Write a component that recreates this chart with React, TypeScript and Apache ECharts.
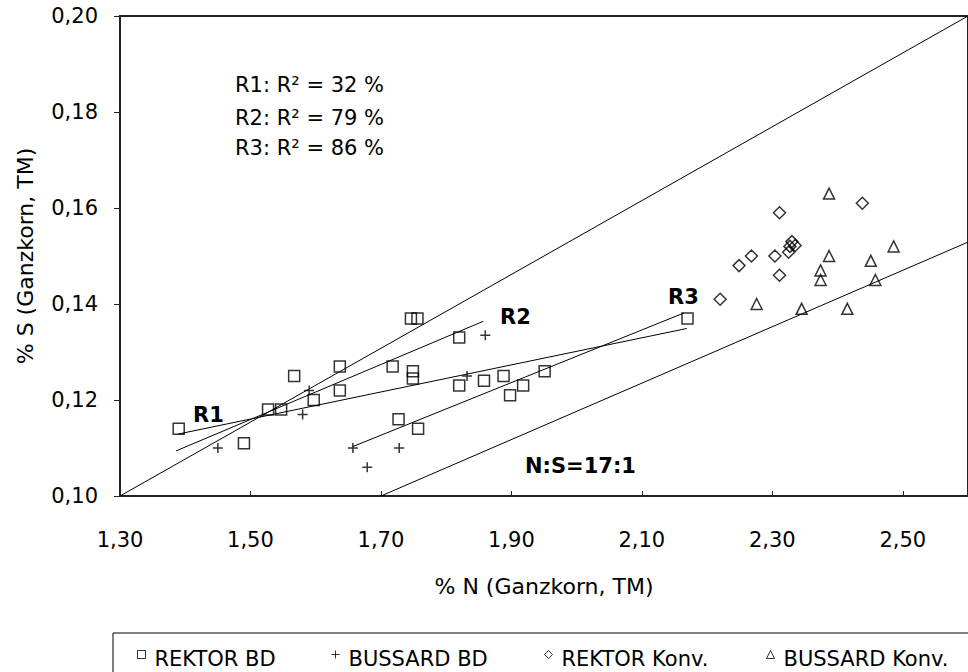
import React, { useEffect, useRef } from "react";
import * as echarts from "echarts";

// ---- data ----
const rektorBD: number[][] = [
  [1.39, 0.114], [1.49, 0.111], [1.527, 0.118], [1.547, 0.118], [1.567, 0.125],
  [1.597, 0.12], [1.637, 0.127], [1.637, 0.122], [1.718, 0.127], [1.727, 0.116],
  [1.746, 0.137], [1.756, 0.137], [1.749, 0.126], [1.749, 0.1245], [1.757, 0.114],
  [1.82, 0.133], [1.82, 0.123], [1.858, 0.124], [1.888, 0.125], [1.898, 0.121],
  [1.918, 0.123], [1.951, 0.126], [2.17, 0.137],
];
const bussardBD: number[][] = [
  [1.45, 0.11], [1.58, 0.117], [1.59, 0.122], [1.657, 0.11], [1.679, 0.106],
  [1.728, 0.11], [1.832, 0.125], [1.86, 0.1335],
];
const rektorKonv: number[][] = [
  [2.22, 0.141], [2.249, 0.148], [2.268, 0.15], [2.304, 0.15], [2.311, 0.159],
  [2.311, 0.146], [2.325, 0.1508], [2.33, 0.153], [2.335, 0.1522], [2.327, 0.152],
  [2.438, 0.161],
];
const bussardKonv: number[][] = [
  [2.276, 0.14], [2.345, 0.139], [2.374, 0.147], [2.374, 0.145], [2.387, 0.163],
  [2.387, 0.15], [2.415, 0.139], [2.451, 0.149], [2.458, 0.145], [2.486, 0.152],
];
const regR1: number[][] = [[1.389, 0.1129], [2.169, 0.1349]];
const regR2: number[][] = [[1.386, 0.1094], [1.857, 0.1364]];
const regR3: number[][] = [[1.657, 0.1103], [2.164, 0.1381]];
const ratio13: number[][] = [[1.3, 0.1], [2.6, 0.2]];
const ratio17: number[][] = [[1.7, 0.1], [2.6, 0.1529]];
const r2Texts: string[] = ["R1: R² = 32 %", "R2: R² = 79 %", "R3: R² = 86 %"];
const seriesNames: string[] = ["REKTOR BD", "BUSSARD BD", "REKTOR Konv.", "BUSSARD Konv."];

const FONT = "'DejaVu Sans', Verdana, sans-serif";
const FS = 21;
const fmt = (v: number) => v.toFixed(2).replace(".", ",");

export default function App() {
  const ref = useRef<HTMLDivElement>(null);
  useEffect(() => {
    if (!ref.current) return;
    const chart = echarts.init(ref.current, null, { renderer: "svg" });
    const plusPath = "path://M5,0L5,10M0,5L10,5";
    // legend icons: symbol in the upper part of a taller box (raised like the reference)
    const lgSquare = "path://M0,0M0,22M0,3L8,3L8,11L0,11Z";
    const lgPlus = "path://M0,0M0,22M4,3L4,11M0,7L8,7";
    const lgDiamond = "path://M0,0M0,22M4,3L8,7L4,11L0,7Z";
    const lgTriangle = "path://M0,0M0,22M4,3L8,11L0,11Z";
    const scatterBase = {
      type: "scatter",
      itemStyle: { color: "rgba(0,0,0,0)", borderColor: "#000", borderWidth: 1.5 },
      emphasis: { disabled: true },
      z: 3,
    };
    const lineBase = {
      type: "line",
      symbol: "none",
      lineStyle: { color: "#000", width: 1 },
      emphasis: { disabled: true },
      z: 2,
    };
    const legendBase = {
      top: 642,
      itemWidth: 8,
      itemHeight: 22,
      itemGap: 4,
      textStyle: { fontFamily: FONT, fontSize: FS, color: "#000", padding: [0, 0, 0, 4] },
      itemStyle: { color: "rgba(0,0,0,0)", borderColor: "#000", borderWidth: 1 },
      selectedMode: false,
    };
    const text = (t: string, x: number, y: number, bold = false) => ({
      type: "text",
      x,
      y,
      style: {
        text: t,
        font: bold ? `bold 21px ${FONT}` : `${FS}px ${FONT}`,
        fill: "#000",
        verticalAlign: "middle",
        align: "left",
      },
      z: 10,
    });
    chart.setOption({
      animation: false,
      grid: {
        left: 120,
        top: 16,
        right: -7,
        bottom: 176,
        show: true,
        borderColor: "#222",
        borderWidth: 2,
      },
      xAxis: {
        type: "value",
        min: 1.3,
        max: 2.6,
        interval: 0.2,
        name: "% N (Ganzkorn, TM)",
        nameLocation: "middle",
        nameGap: 79,
        nameTextStyle: { fontFamily: FONT, fontSize: 22, color: "#000" },
        axisLine: { lineStyle: { color: "#222", width: 2 } },
        axisTick: { inside: true, length: 5, lineStyle: { color: "#222", width: 1 } },
        axisLabel: {
          formatter: fmt,
          margin: 33,
          showMaxLabel: false,
          fontFamily: FONT,
          fontSize: FS,
          color: "#000",
        },
        splitLine: { show: false },
      },
      yAxis: {
        type: "value",
        min: 0.1,
        max: 0.2,
        interval: 0.02,
        name: "% S (Ganzkorn, TM)",
        nameLocation: "middle",
        nameGap: 84,
        nameTextStyle: { fontFamily: FONT, fontSize: 22, color: "#000" },
        axisLine: { lineStyle: { color: "#222", width: 2 } },
        axisTick: { inside: false, length: 6, lineStyle: { color: "#222", width: 1 } },
        axisLabel: { formatter: fmt, margin: 22, fontFamily: FONT, fontSize: FS, color: "#000" },
        splitLine: { show: false },
      },
      legend: [
        { ...legendBase, left: 132, data: [{ name: seriesNames[0], icon: lgSquare }] },
        { ...legendBase, left: 326, data: [{ name: seriesNames[1], icon: lgPlus }] },
        { ...legendBase, left: 539, data: [{ name: seriesNames[2], icon: lgDiamond }] },
        { ...legendBase, left: 761, data: [{ name: seriesNames[3], icon: lgTriangle }] },
      ],
      graphic: [
        {
          type: "rect",
          shape: { x: 113, y: 633, width: 900, height: 80 },
          style: { fill: "none", stroke: "#000", lineWidth: 1 },
        },
        text(r2Texts[0], 235, 85),
        text(r2Texts[1], 235, 118),
        text(r2Texts[2], 235, 148),
        text("R1", 193, 415, true),
        text("R2", 500, 317, true),
        text("R3", 668, 297, true),
        text("N:S=17:1", 525, 466, true),
      ],
      series: [
        { ...scatterBase, name: seriesNames[0], symbol: "rect", symbolSize: 11, data: rektorBD },
        { ...scatterBase, name: seriesNames[1], symbol: plusPath, symbolSize: 10, data: bussardBD },
        { ...scatterBase, name: seriesNames[2], symbol: "diamond", symbolSize: 12, data: rektorKonv },
        { ...scatterBase, name: seriesNames[3], symbol: "triangle", symbolSize: 11, data: bussardKonv },
        { ...lineBase, name: "R1", data: regR1 },
        { ...lineBase, name: "R2", data: regR2 },
        { ...lineBase, name: "R3", data: regR3 },
        { ...lineBase, name: "N:S=13:1", data: ratio13 },
        { ...lineBase, name: "N:S=17:1", data: ratio17 },
      ],
    });
    return () => chart.dispose();
  }, []);
  return (
    <div
      ref={ref}
      style={{ position: "fixed", left: 0, top: 0, width: 968, height: 672, background: "#fff" }}
    />
  );
}
